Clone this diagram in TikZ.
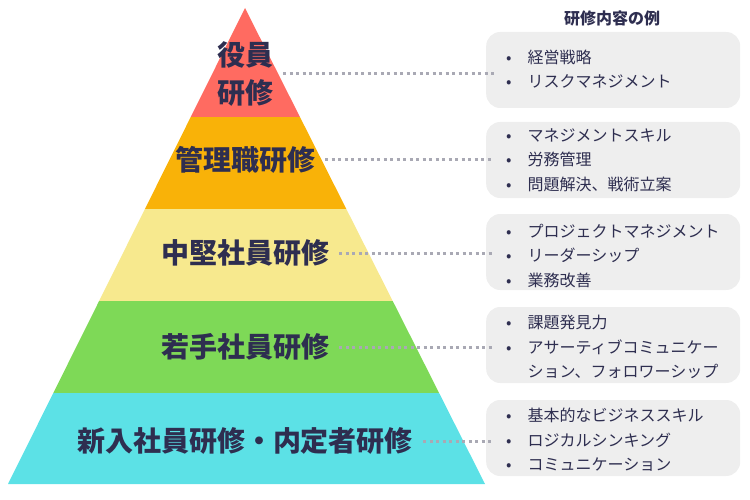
\documentclass[tikz,border=0pt]{standalone}
\usepackage{fontspec}
\newfontfamily\jp{Noto Sans CJK JP}
\usetikzlibrary{positioning}

\definecolor{ink}{HTML}{2E2E50}
\definecolor{boxgray}{HTML}{EEEEEE}
\definecolor{dotgray}{HTML}{A9A9B4}
\definecolor{tierred}{HTML}{FF6B61}
\definecolor{tierorange}{HTML}{F9B208}
\definecolor{tieryellow}{HTML}{F7E98E}
\definecolor{tiergreen}{HTML}{7ED957}
\definecolor{tiercyan}{HTML}{5CE1E6}

\tikzset{
  level label/.style={font=\jp\bfseries\fontsize{28}{38}\selectfont, text=ink, align=center, inner sep=2pt},
  example box/.style={fill=boxgray, rounded corners=14pt, minimum width=254pt, minimum height=76pt, anchor=west},
  example text/.style={font=\jp\fontsize{16}{24.5}\selectfont, text=ink, align=left, anchor=west, inner sep=0pt},
  link line/.style={dotgray, line width=3pt, dash pattern=on 3pt off 3.5pt}
}

\begin{document}
\begin{tikzpicture}[x=1pt,y=-1pt]
  \useasboundingbox (0,0) rectangle (750,500);

  % ピラミッドの帯
  \begin{scope}
    \clip (245,8) -- (8,484) -- (485,484) -- cycle;
    \fill[tierred] (0,0) rectangle (500,117);
    \fill[tierorange] (0,117) rectangle (500,209);
    \fill[tieryellow] (0,209) rectangle (500,301);
    \fill[tiergreen] (0,301) rectangle (500,393);
    \fill[tiercyan] (0,393) rectangle (500,485);
  \end{scope}

  % 階層の名前
  \node[level label] (exec) at (245,74) {役員\\研修};
  \node[level label] (mgr) at (245,160) {管理職研修};
  \node[level label] (mid) at (245,253) {中堅社員研修};
  \node[level label] (young) at (245,347) {若手社員研修};
  \node[level label] (new) at (245,441) {新入社員研修・内定者研修};

  % 研修内容の例
  \node[font=\jp\bfseries\fontsize{16}{18}\selectfont, text=ink] (title) at (612,18) {研修内容の例};

  \node[example box] (box1) at (486,70) {};
  \node[example box] (box2) at (486,160) {};
  \node[example box] (box3) at (486,252) {};
  \node[example box] (box4) at (486,345) {};
  \node[example box] (box5) at (486,438) {};

  \node[example text] (list1) at (506,69) {•\quad 経営戦略\\•\quad リスクマネジメント};
  \node[example text] (list2) at (506,160) {•\quad マネジメントスキル\\•\quad 労務管理\\•\quad 問題解決、戦術立案};
  \node[example text] (list3) at (506,256) {•\quad プロジェクトマネジメント\\•\quad リーダーシップ\\•\quad 業務改善};
  \node[example text] (list4) at (506,347) {•\quad 課題発見力\\•\quad アサーティブコミュニケー\\\phantom{•}\quad ション、フォロワーシップ};
  \node[example text] (list5) at (506,440) {•\quad 基本的なビジネススキル\\•\quad ロジカルシンキング\\•\quad コミュニケーション};

  % 点線
  \draw[link line] ([xshift=8pt]exec.east) -- ([xshift=8pt]exec.east -| box1.west);
  \draw[link line] ([xshift=8pt]mgr.east) -- ([xshift=8pt]mgr.east -| box2.west);
  \draw[link line] ([xshift=8pt]mid.east) -- ([xshift=8pt]mid.east -| box3.west);
  \draw[link line] ([xshift=8pt]young.east) -- ([xshift=8pt]young.east -| box4.west);
  \draw[link line] ([xshift=8pt]new.east) -- ([xshift=8pt]new.east -| box5.west);
\end{tikzpicture}
\end{document}
